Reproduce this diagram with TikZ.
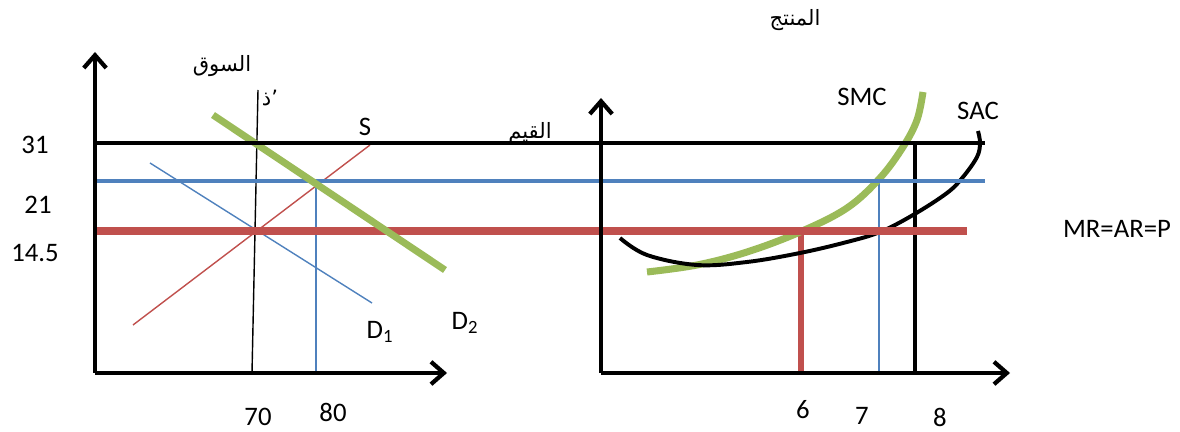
\documentclass[tikz,border=0pt]{standalone}
\usepackage{fontspec}
\setmainfont{Carlito}
\newfontfamily\arabicfont[Script=Arabic]{DejaVu Sans}
\TeXXeTstate=1
\usetikzlibrary{arrows.meta}
\definecolor{mktblue}{RGB}{79,129,189}
\definecolor{mktred}{RGB}{192,80,77}
\definecolor{mktgreen}{RGB}{155,187,89}

\begin{document}
\begin{tikzpicture}[x=0.025cm, y=-0.025cm, >={Straight Barb[length=3.2mm,width=5.6mm,line width=3pt]},
    font=\fontsize{19}{21}\selectfont,
    axis/.style={line width=3.3pt, ->},
    heavy/.style={line width=3.4pt},
    thin/.style={line width=1pt},
    arlabel/.style={font=\fontsize{15}{17}\selectfont\arabicfont, inner sep=0pt}]
    \useasboundingbox (0,0) rectangle (1180,432);

    % market panel
    \coordinate (o1) at (95,373);
    \coordinate (y1) at (95,52);
    \coordinate (x1) at (447,373);
    % producer panel
    \coordinate (o2) at (601,373);
    \coordinate (y2) at (601,98);
    \coordinate (x2) at (1010,373);

    % price levels
    \coordinate (p31a) at (95,143);  \coordinate (p31b) at (985,143);
    \coordinate (p21a) at (95,181);  \coordinate (p21b) at (985,181);
    \coordinate (p14a) at (95,231);  \coordinate (p14b) at (967,231);

    \node[arlabel] (qiyam) at (530,133) {\beginR القيم\endR};

    % market curves
    \coordinate (sA) at (133,325);  \coordinate (sB) at (370,145);
    \coordinate (dA) at (150,163);  \coordinate (dB) at (372,303);
    \coordinate (gA) at (213,115);  \coordinate (gB) at (445,270);
    \coordinate (vA) at (258,90);   \coordinate (vB) at (252,373);
    \coordinate (q80) at (316,181); \coordinate (q80b) at (316,373);
    \draw[thin, mktred] (sA) -- (sB);
    \draw[thin, mktblue] (dA) -- (dB);
    \draw[thin, mktblue] (q80) -- (q80b);
    \draw[thin, black] (vA) -- (vB);

    % producer verticals
    \coordinate (q6) at (801,231);  \coordinate (q6b) at (801,373);
    \coordinate (q7) at (879,181);  \coordinate (q7b) at (879,373);
    \coordinate (q8) at (915,143);  \coordinate (q8b) at (915,373);
    \draw[line width=3.6pt, mktred] (q6) -- (q6b);
    \draw[thin, mktblue] (q7) -- (q7b);
    \draw[heavy] (q8) -- (q8b);

    % cost curves
    \draw[line width=5pt, mktgreen] plot[smooth, tension=0.6] coordinates {(647,272) (697,265) (747,252) (800,232) (847,208) (880,178) (903,147) (917,120) (923,92)};
    \draw[line width=2.8pt] plot[smooth, tension=0.6] coordinates {(620,238) (647,255) (697,265) (747,262) (800,253) (847,242) (880,232) (913,215) (947,193) (963,177) (977,157) (980,143) (978,131)};

    \draw[heavy, mktblue] (p21a) -- (p21b);
    \draw[line width=5pt, mktred] (p14a) -- (p14b);
    \draw[line width=5pt, mktgreen] (gA) -- (gB);
    \draw[heavy] (p31a) -- (p31b);

    % axes
    \draw[axis] (o1) -- (y1);
    \draw[axis] (o1) -- (x1);
    \draw[axis] (o2) -- (y2);
    \draw[axis] (o2) -- (x2);

    % labels
    \node (l31) at (35,145) {31};
    \node (l21) at (38,205) {21};
    \node (l145) at (35,253) {14.5};
    \node (l70) at (258,417) {70};
    \node (l80) at (333,412) {80};
    \node (l6) at (803,410) {6};
    \node (l7) at (862,416) {7};
    \node (l8) at (940,417) {8};
    \node (ls) at (365,127) {S};
    \node (ld1) at (380,332) {D\textsubscript{1}};
    \node (ld2) at (465,323) {D\textsubscript{2}};
    \node (lsmc) at (862,97) {SMC};
    \node (lsac) at (978,111) {SAC};
    \node (lmr) at (1117,229) {MR=AR=P};
    \node[arlabel] (souq) at (222,66) {\beginR السوق\endR};
    \node[arlabel] (dprime) at (270,98) {\beginR ذ\endR’};
    \node[arlabel] (muntij) at (795,20) {\beginR المنتج\endR};
\end{tikzpicture}
\end{document}
